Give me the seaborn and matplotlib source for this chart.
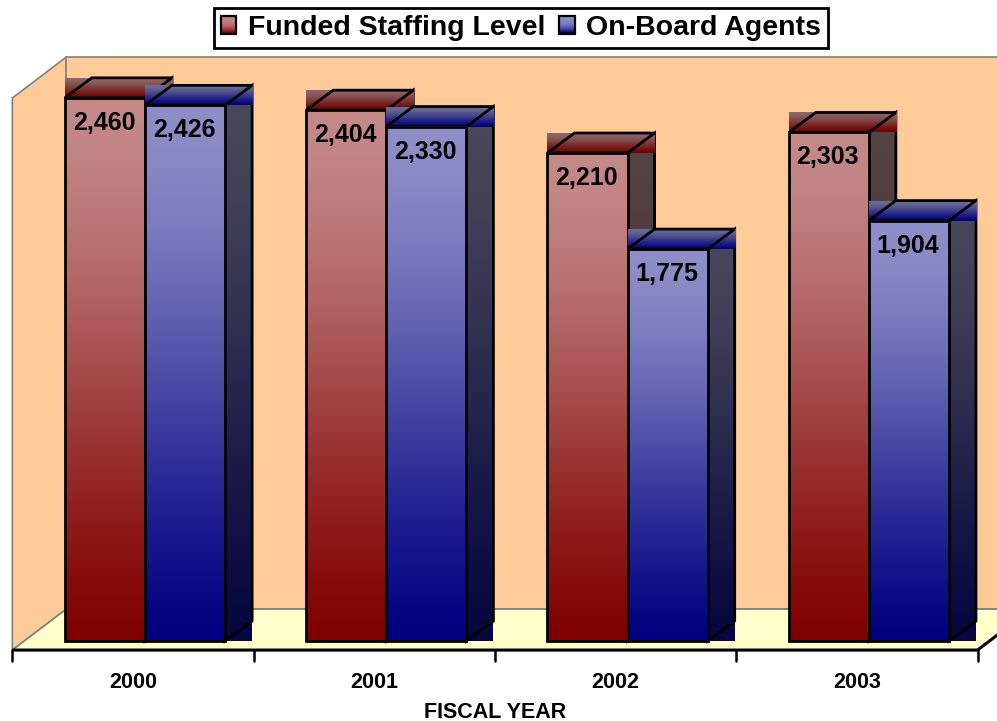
import numpy as np
import pandas as pd
import matplotlib
matplotlib.use("Agg")
import matplotlib.pyplot as plt
from matplotlib.patches import Polygon, Rectangle
from matplotlib.legend_handler import HandlerBase
import seaborn as sns

years = ["2000", "2001", "2002", "2003"]
funded = [2460, 2404, 2210, 2303]
on_board = [2426, 2330, 1775, 1904]
series = ["Funded Staffing Level", "On-Board Agents"]

df = pd.DataFrame({
    "year": years * 2,
    "agents": funded + on_board,
    "series": [series[0]] * len(years) + [series[1]] * len(years),
})

# face shading, (top colour, bottom colour)
shades = {
    series[0]: dict(front=((197, 137, 137), (128, 0, 0)),
                    side=((84, 68, 68), (60, 0, 0)),
                    top=((140, 104, 104), (112, 0, 0))),
    series[1]: dict(front=((142, 142, 200), (0, 0, 128)),
                    side=((72, 72, 90), (6, 6, 64)),
                    top=((108, 108, 146), (0, 0, 128))),
}

W_PX, H_PX = 997, 721
XLIM = (-0.601, 3.531)
YLIM = (-362.0, 2903.0)
U = W_PX / (XLIM[1] - XLIM[0])   # px per category
K = H_PX / (YLIM[1] - YLIM[0])   # px per agent


def ramp(c0, c1, n=256, power=None):
    t = np.linspace(0, 1, n)
    if power is None:
        f = 0.5 * (t ** 1.3 + t * t * (3 - 2 * t))
    else:
        f = t ** power
    c0 = np.array(c0) / 255
    c1 = np.array(c1) / 255
    return (c0[None, :] + (c1 - c0)[None, :] * f[:, None])[:, None, :]


def gradient_face(ax, pts, cols, z):
    # the old chart fills each face's bounding box, then draws the outline
    poly = Polygon(pts, closed=True, facecolor="none", edgecolor="black",
                   lw=2, zorder=z + 0.01, joinstyle="miter")
    ax.add_patch(poly)
    xs = [p[0] for p in pts]
    ys = [p[1] for p in pts]
    ax.imshow(ramp(*cols), extent=[min(xs), max(xs), min(ys), max(ys)],
              origin="upper", aspect="auto", interpolation="bilinear", zorder=z)


class GradientHandle(HandlerBase):
    def __init__(self, c0, c1):
        super().__init__()
        self.c0, self.c1 = c0, c1

    def create_artists(self, legend, orig_handle, xdescent, ydescent,
                       width, height, fontsize, trans):
        cols = ramp(self.c0, self.c1, 16, power=2.2)[:, 0, :]
        n = len(cols)
        arts = []
        for k, c in enumerate(cols):
            arts.append(Rectangle((-xdescent, -ydescent + height * (n - 1 - k) / n),
                                  width, height / n + 0.3, facecolor=c,
                                  edgecolor="none", transform=trans))
        arts.append(Rectangle((-xdescent, -ydescent), width, height,
                              facecolor="none", edgecolor="black", lw=1.6,
                              transform=trans))
        return arts


sns.set_style("white")
plt.rcParams["font.family"] = ["Liberation Sans", "DejaVu Sans"]
plt.rcParams["text.color"] = "black"

fig = plt.figure(figsize=(W_PX / 100, H_PX / 100), dpi=100)
ax = fig.add_axes([0, 0, 1, 1])

sns.barplot(data=df, x="year", y="agents", hue="series", width=0.664,
            palette=["#C48888", "#8C8CC8"], ax=ax, legend=False)

# walls and floor
fx, fy = -12 / U, -9 / K          # floor front plane offset from bar fronts
Dx, Dy = 54 / U, 41 / K            # full floor depth
x_l, x_r = -0.5 + fx, len(years) - 0.5 + fx
y_f, y_t = fy, 2500 + fy
wall_c, floor_c, edge_c = "#FFCC99", "#FFFFCC", "#808080"

ax.add_patch(Polygon([(x_l, y_f), (x_l, y_t), (x_l + Dx, y_t + Dy), (x_l + Dx, y_f + Dy)],
                     facecolor=wall_c, edgecolor=edge_c, lw=1.2, zorder=0.5))
ax.add_patch(Polygon([(x_l + Dx, y_f + Dy), (x_l + Dx, y_t + Dy), (x_r + Dx, y_t + Dy), (x_r + Dx, y_f + Dy)],
                     facecolor=wall_c, edgecolor=edge_c, lw=1.2, zorder=0.5))
ax.add_patch(Polygon([(x_l, y_f), (x_r, y_f), (x_r + Dx, y_f + Dy), (x_l + Dx, y_f + Dy)],
                     facecolor=floor_c, edgecolor=edge_c, lw=1.2, zorder=0.6))
ax.plot([x_l, x_r, x_r + Dx], [y_f, y_f, y_f + Dy], color="black", lw=2.2,
        zorder=0.7, solid_capstyle="butt")
for i in range(len(years) + 1):
    xt = i - 0.5 + fx
    ax.plot([xt, xt], [y_f, y_f - 11 / K], color="black", lw=1.8, zorder=0.7)

# 3D bars, painted left to right
dx, dy = 27 / U, 20 / K
for i in range(len(years)):
    for j, name in enumerate(series):
        bar = ax.containers[j][i]
        bar.set_visible(False)
        x0, w, h = bar.get_x(), bar.get_width(), bar.get_height()
        x1 = x0 + w
        z = 2 + i + j * 0.5
        sh = shades[name]
        gradient_face(ax, [(x1, 0), (x1, h), (x1 + dx, h + dy), (x1 + dx, dy)], sh["side"], z)
        gradient_face(ax, [(x0, h), (x1, h), (x1 + dx, h + dy), (x0 + dx, h + dy)], sh["top"], z + 0.1)
        gradient_face(ax, [(x0, 0), (x1, 0), (x1, h), (x0, h)], sh["front"], z + 0.2)
        ax.text(x0 + w / 2 - 1 / U, h - 25 / K, f"{int(h):,}", ha="center", va="center",
                fontsize=18, fontweight="bold", color="black", zorder=20)

for i, yr in enumerate(years):
    ax.text(i + fx, -41 / K, yr, ha="center", va="center",
            fontsize=15.5, fontweight="bold", color="black")
ax.text((len(years) - 1) / 2 + fx, -71 / K, "FISCAL YEAR", ha="center",
        va="center", fontsize=15.5, fontweight="bold", color="black")

handles = [Rectangle((0, 0), 1, 1), Rectangle((0, 0), 1, 1)]
hmap = {handles[k]: GradientHandle(*shades[series[k]]["front"]) for k in range(2)}
leg = ax.legend(handles, series, handler_map=hmap, loc="upper center",
                bbox_to_anchor=(521 / W_PX, 1 - 8 / H_PX), ncol=2,
                prop={"family": "Liberation Sans", "weight": "bold", "size": 20.5},
                frameon=True, fancybox=False, framealpha=1, edgecolor="black",
                borderpad=0.25, handlelength=0.55, handleheight=0.55,
                handletextpad=0.4, columnspacing=0.5, borderaxespad=0)
leg.get_frame().set_linewidth(2)
leg.set_zorder(30)
for t in leg.get_texts():
    t.set_color("black")

ax.set_xlim(*XLIM)
ax.set_ylim(*YLIM)
ax.axis("off")
fig.savefig("out.png", dpi=100, facecolor="white")
